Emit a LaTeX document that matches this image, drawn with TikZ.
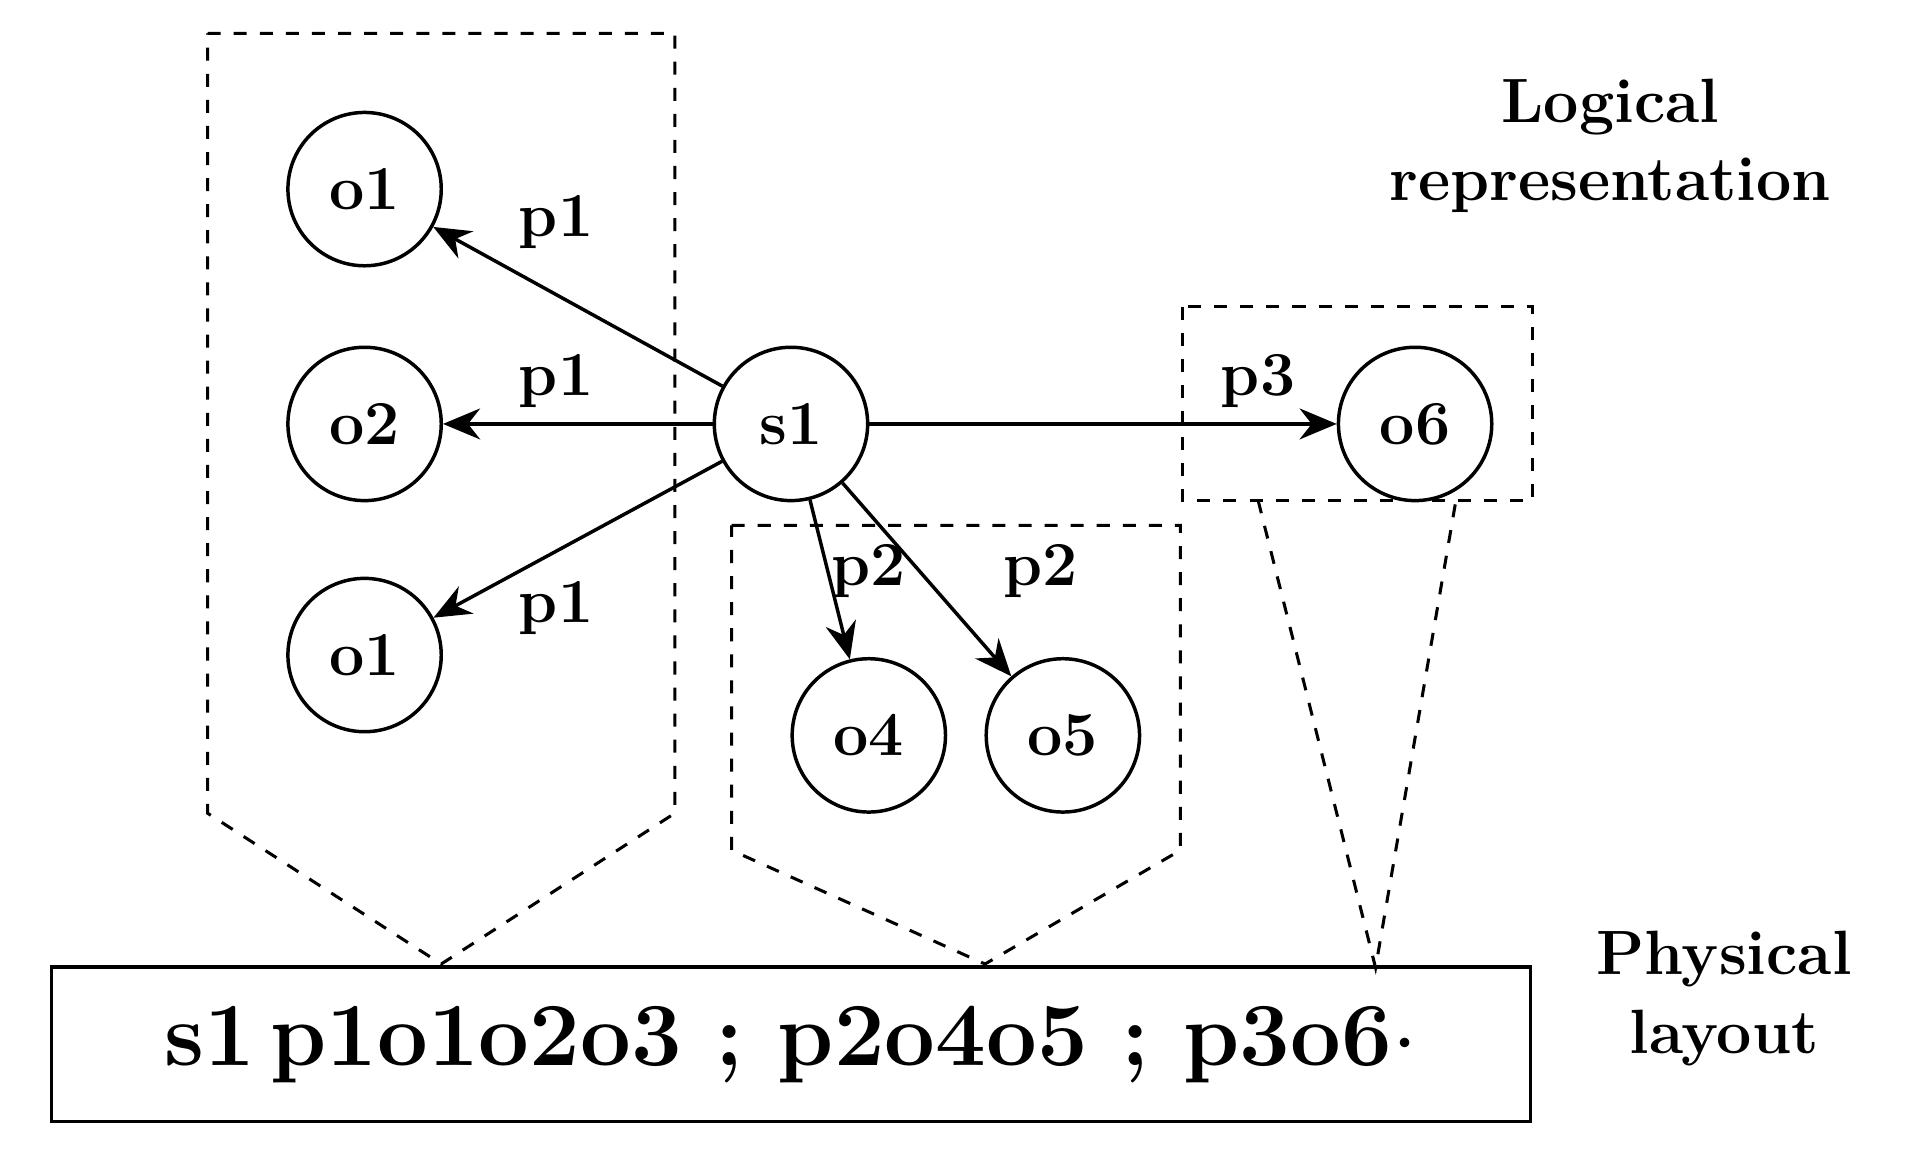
\documentclass[tikz,border=0pt]{standalone}
\usetikzlibrary{arrows.meta}
\begin{document}
\begin{tikzpicture}[x=0.01cm,y=-0.01cm,
  nd/.style={circle,draw,line width=0.8pt,minimum size=1.24cm,inner sep=0pt,font=\Large\bfseries},
  ar/.style={line width=0.8pt,-{Stealth[length=0.3cm,width=0.25cm]}},
  dsh/.style={dashed,line width=0.7pt},
  lb/.style={font=\Large\bfseries}]
\useasboundingbox (0,0) rectangle (1560,938);
\node[nd] (o1a) at (295,153) {o1};
\node[nd] (o2) at (295,343) {o2};
\node[nd] (o1b) at (295,530) {o1};
\node[nd] (s1) at (640,343) {s1};
\node[nd] (o4) at (703,595) {o4};
\node[nd] (o5) at (860,595) {o5};
\node[nd] (o6) at (1145,343) {o6};
\draw[ar] (s1) -- (o1a);
\draw[ar] (s1) -- (o2);
\draw[ar] (s1) -- (o1b);
\draw[ar] (s1) -- (o4);
\draw[ar] (s1) -- (o5);
\draw[ar] (s1) -- (o6);
\node[lb] (l1) at (450,180) {p1};
\node[lb] (l2) at (450,308) {p1};
\node[lb] (l3) at (450,492) {p1};
\node[lb] (l4) at (703,462) {p2};
\node[lb] (l5) at (842,462) {p2};
\node[lb] (l6) at (1018,308) {p3};
\draw[dsh] (168,27) -- (546,27) -- (546,658) -- (357,780) -- (168,658) -- cycle;
\draw[dsh] (592,425) -- (955,425) -- (955,688) -- (797,780) -- (592,688) -- cycle;
\draw[dsh] (957,248) rectangle (1240,405);
\coordinate (ap) at (1113,783);
\draw[dsh] (1018,405) -- (ap) -- (1178,405);
\node[draw,line width=0.8pt,minimum width=11.96cm,minimum height=1.25cm,font=\huge\bfseries] (phys) at (640,845) {s1\,p1o1o2o3 ; p2o4o5 ; p3o6$\cdot$};
\node[font=\Large\bfseries,align=center] (log) at (1303,118) {Logical\\representation};
\node[font=\Large\bfseries,align=center] (ph) at (1395,808) {Physical\\layout};
\end{tikzpicture}
\end{document}
